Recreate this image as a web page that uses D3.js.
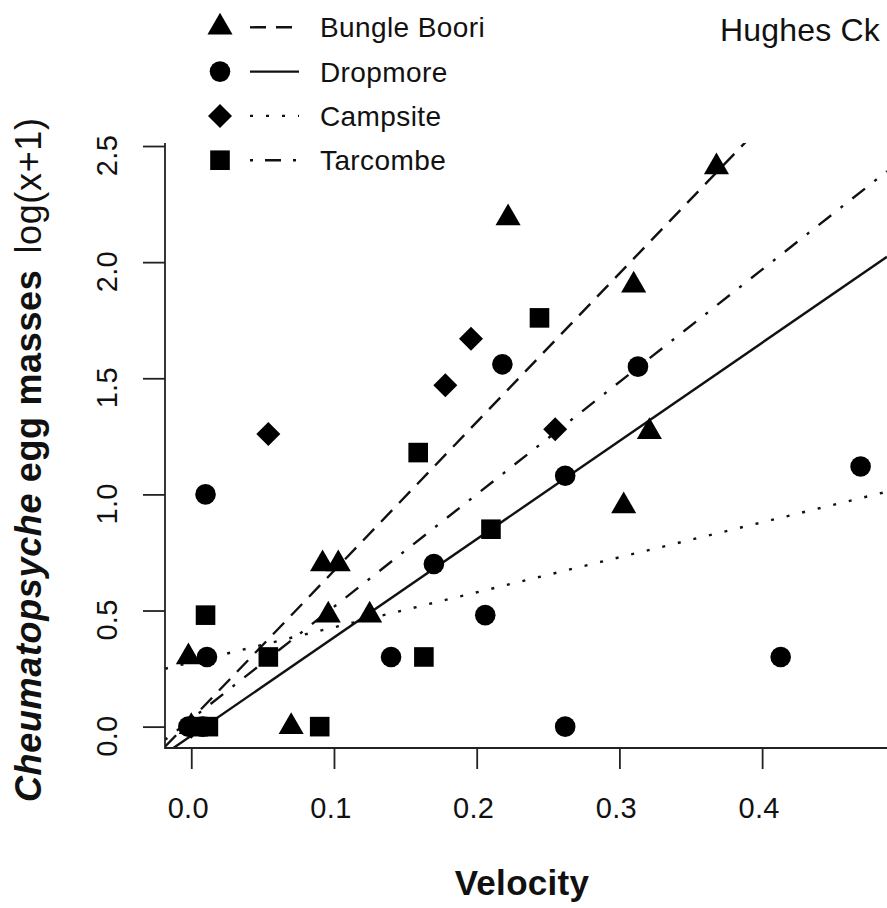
<!DOCTYPE html>
<html><head><meta charset="utf-8">
<script src="https://cdn.jsdelivr.net/npm/d3@7"></script>
<style>
body{margin:0;background:#fff}
text{font-family:"Liberation Sans",Arial,Helvetica,sans-serif;fill:#111}
</style>
</head><body>
<svg id="chart" width="887" height="908"></svg>
<script>
// ---- data ----
const sites = ["Bungle Boori", "Dropmore", "Campsite", "Tarcombe"];
const shapes = ["triangle", "circle", "diamond", "square"];
const dashes = ["16,10", null, "3,13", "3,12,16,12"];

const bbVelocity = [-0.002, 0.000, 0.070, 0.092, 0.103, 0.096, 0.125, 0.222, 0.310, 0.321, 0.303, 0.368];
const bbEggs     = [0.30, 0.00, 0.00, 0.70, 0.70, 0.48, 0.48, 2.19, 1.90, 1.27, 0.95, 2.41];

const drVelocity = [0.010, 0.011, -0.002, 0.008, 0.140, 0.170, 0.206, 0.218, 0.262, 0.262, 0.313, 0.413, 0.469];
const drEggs     = [1.00, 0.30, 0.00, 0.00, 0.30, 0.70, 0.48, 1.56, 0.00, 1.08, 1.55, 0.30, 1.12];

const csVelocity = [0.000, 0.054, 0.178, 0.196, 0.255];
const csEggs     = [0.00, 1.26, 1.47, 1.67, 1.28];

const tcVelocity = [0.005, 0.012, 0.010, 0.054, 0.090, 0.159, 0.163, 0.210, 0.244];
const tcEggs     = [0.00, 0.00, 0.48, 0.30, 0.00, 1.18, 0.30, 0.85, 1.76];

const fitIntercept = [0.031, -0.039, 0.277, 0.032];
const fitSlope     = [6.40, 4.23, 1.507, 4.84];

const xTicks = [0, 0.1, 0.2, 0.3, 0.4];
const yTicks = [0, 0.5, 1.0, 1.5, 2.0, 2.5];

const siteVel = [bbVelocity, drVelocity, csVelocity, tcVelocity];
const siteEgg = [bbEggs, drEggs, csEggs, tcEggs];

// ---- layout ----
const svg = d3.select("#chart");
const L = 165, R = 887, T = 143, B = 748;
const x = d3.scaleLinear().domain([-0.0184, 0.4875]).range([L, R]);
const y = d3.scaleLinear().domain([-0.092, 2.513]).range([B, T]);

function symPath(shape) {
  if (shape === "circle") { const r = 10.3; return `M${-r},0A${r},${r} 0 1,0 ${r},0A${r},${r} 0 1,0 ${-r},0Z`; }
  if (shape === "square") { const h = 9.8; return `M${-h},${-h}H${h}V${h}H${-h}Z`; }
  if (shape === "diamond") { const h = 12; return `M0,${-h}L${h},0L0,${h}L${-h},0Z`; }
  const r = 14.5, xc = r * Math.sqrt(3) / 2;
  return `M0,${-r}L${xc},${r/2}L${-xc},${r/2}Z`;
}

svg.append("defs").append("clipPath").attr("id", "plotclip")
  .append("rect").attr("x", L).attr("y", T).attr("width", R - L).attr("height", B - T);

// fitted lines
const lineG = svg.append("g").attr("clip-path", "url(#plotclip)");
sites.forEach((s, i) => {
  const [x0, x1] = x.domain();
  lineG.append("line")
    .attr("x1", x(x0)).attr("y1", y(fitIntercept[i] + fitSlope[i] * x0))
    .attr("x2", x(x1)).attr("y2", y(fitIntercept[i] + fitSlope[i] * x1))
    .attr("stroke", "#111").attr("stroke-width", 2.4)
    .attr("stroke-dasharray", dashes[i]);
});

// points
const ptG = svg.append("g");
sites.forEach((s, i) => {
  const pts = siteVel[i].map((v, j) => [v, siteEgg[i][j]]);
  ptG.selectAll(null).data(pts).enter().append("path")
    .attr("d", symPath(shapes[i]))
    .attr("transform", d => `translate(${x(d[0])},${y(d[1])})`)
    .attr("fill", "#000");
});

// frame (L-shaped)
svg.append("path").attr("d", `M${L},${T}V${B}H${R}`)
  .attr("fill", "none").attr("stroke", "#222").attr("stroke-width", 1.8);

// x axis
const xAxis = d3.axisBottom(x).tickValues(xTicks).tickSize(21).tickPadding(0)
  .tickFormat(d3.format(".1f"));
const gx = svg.append("g").attr("transform", `translate(0,${B})`).call(xAxis);
gx.select(".domain").remove();
gx.selectAll(".tick line").attr("stroke", "#222").attr("stroke-width", 1.8);
gx.selectAll(".tick text").attr("y", 70).attr("dy", null).attr("dx", -3.5)
  .style("font-size", "29px").style("letter-spacing", "0.3px").attr("fill", "#111");

// y axis
const yAxis = d3.axisLeft(y).tickValues(yTicks).tickSize(22).tickPadding(0)
  .tickFormat(d3.format(".1f"));
const gy = svg.append("g").attr("transform", `translate(${L},0)`).call(yAxis);
gy.select(".domain").remove();
gy.selectAll(".tick line").attr("stroke", "#222").attr("stroke-width", 1.8);
gy.selectAll(".tick text")
  .attr("x", null).attr("dy", null)
  .attr("text-anchor", "middle")
  .attr("transform", "translate(-48,9) rotate(-90)")
  .style("font-size", "29px").style("letter-spacing", "0.3px").attr("fill", "#111");

// axis titles
svg.append("text").attr("x", 522).attr("y", 895).attr("text-anchor", "middle")
  .style("font-size", "35px").style("font-weight", "bold").style("letter-spacing", "0.3px")
  .text("Velocity");

const yl = svg.append("text")
  .attr("transform", "translate(41,802) rotate(-90)")
  .attr("text-anchor", "start")
  .attr("textLength", 684).attr("lengthAdjust", "spacing")
  .style("font-size", "36px");
yl.append("tspan").style("font-weight", "bold").style("font-style", "italic").text("Cheumatopsyche");
yl.append("tspan").style("font-weight", "bold").text(" egg masses");
yl.append("tspan").attr("dx", 16).style("font-weight", "normal").text("log(x+1)");

// panel title
svg.append("text").attr("x", 880).attr("y", 41).attr("text-anchor", "end")
  .style("font-size", "32px").style("letter-spacing", "0.2px").text("Hughes Ck");

// legend
const lg = svg.append("g");
sites.forEach((s, i) => {
  const ry = 27.3 + i * 44.3;
  lg.append("path").attr("d", symPath(shapes[i]))
    .attr("transform", `translate(220,${ry})`).attr("fill", "#000");
  lg.append("line").attr("x1", 250).attr("x2", 299).attr("y1", ry).attr("y2", ry)
    .attr("stroke", "#111").attr("stroke-width", 2.4).attr("stroke-dasharray", dashes[i]);
  lg.append("text").attr("x", 320).attr("y", ry + 10)
    .style("font-size", "28px").style("letter-spacing", "0.4px").text(s);
});
</script>
</body></html>
